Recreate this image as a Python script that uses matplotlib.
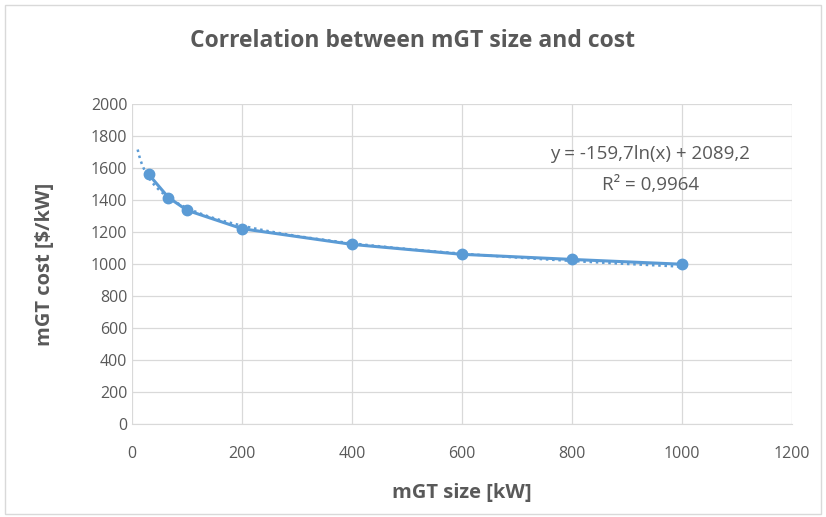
import numpy as np
import matplotlib; matplotlib.use("Agg")
import matplotlib.pyplot as plt

size_kw = [30, 66, 100, 200, 400, 600, 800, 1000]
cost_kw = [1560, 1415, 1335, 1220, 1122, 1060, 1028, 998]
eq_text = "y = -159,7ln(x) + 2089,2"
r2_text = "R² = 0,9964"

BLUE = "#5b9bd5"
GREY = "#595959"
plt.rcParams["font.family"] = ["Open Sans", "DejaVu Sans"]

fig = plt.figure(figsize=(8.26, 5.17), dpi=100)
ax = fig.add_axes([0.160, 0.180, 0.799, 0.619])

# log trendline fitted from the points, drawn from x=10
a, b = np.polyfit(np.log(size_kw), cost_kw, 1)
xt = np.linspace(10, 1000, 400)
ax.plot(xt, a*np.log(xt) + b, color=BLUE, lw=1.8, ls=(0, (1, 1.5)), zorder=3)
ax.plot(size_kw, cost_kw, color=BLUE, lw=2.2, marker="o", ms=7.5, zorder=4)

ax.set_xlim(0, 1200); ax.set_ylim(0, 2000)
ax.set_xticks(range(0, 1201, 200)); ax.set_yticks(range(0, 2001, 200))
ax.grid(color="#d9d9d9", lw=0.9)
ax.set_axisbelow(True)
for s in ["top", "right", "left"]:
    ax.spines[s].set_visible(False)
ax.spines["bottom"].set_color("#d9d9d9")
ax.tick_params(length=0, labelsize=11.5, labelcolor=GREY)
ax.tick_params(axis="x", pad=16)
ax.tick_params(axis="y", pad=3.5)

ax.set_xlabel("mGT size [kW]", fontsize=14.5, fontweight="bold", color=GREY, labelpad=15)
ax.set_ylabel("mGT cost [$/kW]", fontsize=14.5, fontweight="bold", color=GREY, labelpad=26)
fig.text(0.5, 0.92, "Correlation between mGT size and cost", ha="center", va="center",
         fontsize=16.5, fontweight="bold", color=GREY)

ax.text(0.785, 0.845, eq_text, transform=ax.transAxes, ha="center", va="center", fontsize=13.5, color=GREY)
ax.text(0.785, 0.747, r2_text, transform=ax.transAxes, ha="center", va="center", fontsize=13.5, color=GREY)

fig.patches.append(plt.Rectangle((0.006, 0.006), 0.988, 0.984, transform=fig.transFigure,
                                 fill=False, edgecolor="#d9d9d9", lw=1))
fig.savefig("out.png", dpi=100)
